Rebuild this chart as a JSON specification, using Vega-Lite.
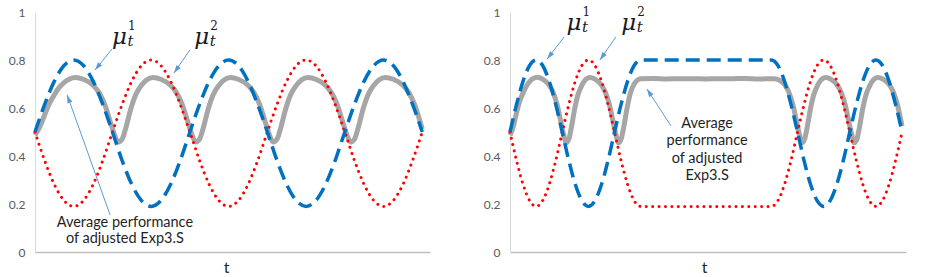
{
  "$schema": "https://vega.github.io/schema/vega-lite/v6.json",
  "background": "white",
  "padding": {"left": 8, "top": 5, "right": 0, "bottom": 0},
  "spacing": 50,
  "config": {
    "view": {"stroke": null},
    "axis": {"grid": false, "ticks": false, "labelFont": "Lato", "titleFont": "Lato", "labelColor": "#595959", "titleColor": "#262626"}
  },
  "datasets": {
    "Lmu": [
      {"t": 0, "mu1": 0.5, "mu2": 0.5}, {"t": 25, "mu1": 0.615, "mu2": 0.381}, {"t": 50, "mu1": 0.712, "mu2": 0.281}, {"t": 75, "mu1": 0.777, "mu2": 0.214},
      {"t": 100, "mu1": 0.8, "mu2": 0.19}, {"t": 125, "mu1": 0.777, "mu2": 0.214}, {"t": 150, "mu1": 0.712, "mu2": 0.281}, {"t": 175, "mu1": 0.615, "mu2": 0.381},
      {"t": 200, "mu1": 0.5, "mu2": 0.5}, {"t": 225, "mu1": 0.381, "mu2": 0.615}, {"t": 250, "mu1": 0.281, "mu2": 0.712}, {"t": 275, "mu1": 0.214, "mu2": 0.777},
      {"t": 300, "mu1": 0.19, "mu2": 0.8}, {"t": 325, "mu1": 0.214, "mu2": 0.777}, {"t": 350, "mu1": 0.281, "mu2": 0.712}, {"t": 375, "mu1": 0.381, "mu2": 0.615},
      {"t": 400, "mu1": 0.5, "mu2": 0.5}, {"t": 425, "mu1": 0.615, "mu2": 0.381}, {"t": 450, "mu1": 0.712, "mu2": 0.281}, {"t": 475, "mu1": 0.777, "mu2": 0.214},
      {"t": 500, "mu1": 0.8, "mu2": 0.19}, {"t": 525, "mu1": 0.777, "mu2": 0.214}, {"t": 550, "mu1": 0.712, "mu2": 0.281}, {"t": 575, "mu1": 0.615, "mu2": 0.381},
      {"t": 600, "mu1": 0.5, "mu2": 0.5}, {"t": 625, "mu1": 0.381, "mu2": 0.615}, {"t": 650, "mu1": 0.281, "mu2": 0.712}, {"t": 675, "mu1": 0.214, "mu2": 0.777},
      {"t": 700, "mu1": 0.19, "mu2": 0.8}, {"t": 725, "mu1": 0.214, "mu2": 0.777}, {"t": 750, "mu1": 0.281, "mu2": 0.712}, {"t": 775, "mu1": 0.381, "mu2": 0.615},
      {"t": 800, "mu1": 0.5, "mu2": 0.5}, {"t": 825, "mu1": 0.615, "mu2": 0.381}, {"t": 850, "mu1": 0.712, "mu2": 0.281}, {"t": 875, "mu1": 0.777, "mu2": 0.214},
      {"t": 900, "mu1": 0.8, "mu2": 0.19}, {"t": 925, "mu1": 0.777, "mu2": 0.214}, {"t": 950, "mu1": 0.712, "mu2": 0.281}, {"t": 975, "mu1": 0.615, "mu2": 0.381},
      {"t": 1000, "mu1": 0.5, "mu2": 0.5}
    ],
    "Lavg": [
      {"t": 0, "v": 0.487}, {"t": 12, "v": 0.52}, {"t": 25, "v": 0.572}, {"t": 37, "v": 0.618}, {"t": 50, "v": 0.655}, {"t": 62, "v": 0.685}, {"t": 75, "v": 0.706}, {"t": 88, "v": 0.72}, {"t": 105, "v": 0.727},
      {"t": 125, "v": 0.72}, {"t": 150, "v": 0.695}, {"t": 165, "v": 0.665}, {"t": 180, "v": 0.615}, {"t": 195, "v": 0.54}, {"t": 205, "v": 0.49}, {"t": 215, "v": 0.458}, {"t": 225, "v": 0.47}, {"t": 235, "v": 0.52}, {"t": 248, "v": 0.6}, {"t": 260, "v": 0.655}, {"t": 275, "v": 0.695}, {"t": 288, "v": 0.717}, {"t": 305, "v": 0.727},
      {"t": 325, "v": 0.72}, {"t": 350, "v": 0.695}, {"t": 365, "v": 0.665}, {"t": 380, "v": 0.615}, {"t": 395, "v": 0.54}, {"t": 405, "v": 0.49}, {"t": 415, "v": 0.458}, {"t": 425, "v": 0.47}, {"t": 435, "v": 0.52}, {"t": 448, "v": 0.6}, {"t": 460, "v": 0.655}, {"t": 475, "v": 0.695}, {"t": 488, "v": 0.717}, {"t": 505, "v": 0.727},
      {"t": 525, "v": 0.72}, {"t": 550, "v": 0.695}, {"t": 565, "v": 0.665}, {"t": 580, "v": 0.615}, {"t": 595, "v": 0.54}, {"t": 605, "v": 0.49}, {"t": 615, "v": 0.458}, {"t": 625, "v": 0.47}, {"t": 635, "v": 0.52}, {"t": 648, "v": 0.6}, {"t": 660, "v": 0.655}, {"t": 675, "v": 0.695}, {"t": 688, "v": 0.717}, {"t": 705, "v": 0.727},
      {"t": 725, "v": 0.72}, {"t": 750, "v": 0.695}, {"t": 765, "v": 0.665}, {"t": 780, "v": 0.615}, {"t": 795, "v": 0.54}, {"t": 805, "v": 0.49}, {"t": 815, "v": 0.458}, {"t": 825, "v": 0.47}, {"t": 835, "v": 0.52}, {"t": 848, "v": 0.6}, {"t": 860, "v": 0.655}, {"t": 875, "v": 0.695}, {"t": 888, "v": 0.717}, {"t": 905, "v": 0.727},
      {"t": 925, "v": 0.72}, {"t": 950, "v": 0.695}, {"t": 965, "v": 0.665}, {"t": 980, "v": 0.615}, {"t": 995, "v": 0.54}, {"t": 1000, "v": 0.512}
    ],
    "Rmu": [
      {"t": 0, "mu1": 0.5, "mu2": 0.5}, {"t": 25, "mu1": 0.615, "mu2": 0.381}, {"t": 50, "mu1": 0.712, "mu2": 0.281}, {"t": 75, "mu1": 0.777, "mu2": 0.214},
      {"t": 100, "mu1": 0.8, "mu2": 0.19}, {"t": 125, "mu1": 0.777, "mu2": 0.214}, {"t": 150, "mu1": 0.712, "mu2": 0.281}, {"t": 175, "mu1": 0.615, "mu2": 0.381},
      {"t": 200, "mu1": 0.5, "mu2": 0.5}, {"t": 225, "mu1": 0.381, "mu2": 0.615}, {"t": 250, "mu1": 0.281, "mu2": 0.712}, {"t": 275, "mu1": 0.214, "mu2": 0.777},
      {"t": 300, "mu1": 0.19, "mu2": 0.8}, {"t": 325, "mu1": 0.214, "mu2": 0.777}, {"t": 350, "mu1": 0.281, "mu2": 0.712}, {"t": 375, "mu1": 0.381, "mu2": 0.615},
      {"t": 400, "mu1": 0.5, "mu2": 0.5}, {"t": 425, "mu1": 0.615, "mu2": 0.381}, {"t": 450, "mu1": 0.712, "mu2": 0.281}, {"t": 475, "mu1": 0.777, "mu2": 0.214},
      {"t": 500, "mu1": 0.8, "mu2": 0.19}, {"t": 750, "mu1": 0.8, "mu2": 0.19}, {"t": 1000, "mu1": 0.8, "mu2": 0.19},
      {"t": 1025, "mu1": 0.777, "mu2": 0.214}, {"t": 1050, "mu1": 0.712, "mu2": 0.281}, {"t": 1075, "mu1": 0.615, "mu2": 0.381},
      {"t": 1100, "mu1": 0.5, "mu2": 0.5}, {"t": 1125, "mu1": 0.381, "mu2": 0.615}, {"t": 1150, "mu1": 0.281, "mu2": 0.712}, {"t": 1175, "mu1": 0.214, "mu2": 0.777},
      {"t": 1200, "mu1": 0.19, "mu2": 0.8}, {"t": 1225, "mu1": 0.214, "mu2": 0.777}, {"t": 1250, "mu1": 0.281, "mu2": 0.712}, {"t": 1275, "mu1": 0.381, "mu2": 0.615},
      {"t": 1300, "mu1": 0.5, "mu2": 0.5}, {"t": 1325, "mu1": 0.615, "mu2": 0.381}, {"t": 1350, "mu1": 0.712, "mu2": 0.281}, {"t": 1375, "mu1": 0.777, "mu2": 0.214},
      {"t": 1400, "mu1": 0.8, "mu2": 0.19}, {"t": 1425, "mu1": 0.777, "mu2": 0.214}, {"t": 1450, "mu1": 0.712, "mu2": 0.281}, {"t": 1475, "mu1": 0.615, "mu2": 0.381},
      {"t": 1500, "mu1": 0.5, "mu2": 0.5}
    ],
    "Ravg": [
      {"t": 0, "v": 0.487}, {"t": 12, "v": 0.52}, {"t": 25, "v": 0.58}, {"t": 37, "v": 0.628}, {"t": 50, "v": 0.663}, {"t": 62, "v": 0.69}, {"t": 75, "v": 0.71}, {"t": 88, "v": 0.722}, {"t": 105, "v": 0.728},
      {"t": 125, "v": 0.72}, {"t": 150, "v": 0.695}, {"t": 165, "v": 0.665}, {"t": 180, "v": 0.615}, {"t": 195, "v": 0.54}, {"t": 205, "v": 0.49}, {"t": 215, "v": 0.455}, {"t": 225, "v": 0.47}, {"t": 235, "v": 0.52}, {"t": 248, "v": 0.6}, {"t": 260, "v": 0.655}, {"t": 275, "v": 0.695}, {"t": 288, "v": 0.717}, {"t": 305, "v": 0.727},
      {"t": 325, "v": 0.72}, {"t": 350, "v": 0.695}, {"t": 365, "v": 0.665}, {"t": 380, "v": 0.615}, {"t": 395, "v": 0.54}, {"t": 405, "v": 0.49}, {"t": 415, "v": 0.455}, {"t": 425, "v": 0.47}, {"t": 435, "v": 0.52}, {"t": 448, "v": 0.6}, {"t": 460, "v": 0.66}, {"t": 475, "v": 0.7}, {"t": 500, "v": 0.722},
      {"t": 550, "v": 0.723}, {"t": 600, "v": 0.721}, {"t": 650, "v": 0.722}, {"t": 700, "v": 0.722}, {"t": 750, "v": 0.721}, {"t": 800, "v": 0.722}, {"t": 850, "v": 0.722}, {"t": 900, "v": 0.723}, {"t": 950, "v": 0.721}, {"t": 1010, "v": 0.722},
      {"t": 1030, "v": 0.716}, {"t": 1052, "v": 0.695}, {"t": 1067, "v": 0.665}, {"t": 1082, "v": 0.615}, {"t": 1097, "v": 0.54}, {"t": 1107, "v": 0.49}, {"t": 1117, "v": 0.455}, {"t": 1127, "v": 0.47}, {"t": 1137, "v": 0.52}, {"t": 1150, "v": 0.6}, {"t": 1162, "v": 0.655}, {"t": 1177, "v": 0.695}, {"t": 1190, "v": 0.717}, {"t": 1207, "v": 0.727},
      {"t": 1227, "v": 0.72}, {"t": 1252, "v": 0.695}, {"t": 1267, "v": 0.665}, {"t": 1282, "v": 0.615}, {"t": 1297, "v": 0.54}, {"t": 1307, "v": 0.49}, {"t": 1317, "v": 0.455}, {"t": 1327, "v": 0.47}, {"t": 1337, "v": 0.52}, {"t": 1350, "v": 0.6}, {"t": 1362, "v": 0.655}, {"t": 1377, "v": 0.695}, {"t": 1390, "v": 0.717}, {"t": 1407, "v": 0.727},
      {"t": 1427, "v": 0.72}, {"t": 1452, "v": 0.695}, {"t": 1467, "v": 0.665}, {"t": 1482, "v": 0.615}, {"t": 1497, "v": 0.54}, {"t": 1500, "v": 0.525}
    ],
    "Llab": [{"t": 199, "v": 0.867, "sup": "1"}, {"t": 411, "v": 0.867, "sup": "2"}],
    "Rlab": [{"t": 216, "v": 0.925, "sup": "1"}, {"t": 426, "v": 0.925, "sup": "2"}],
    "Larr": [
      {"id": "a1", "t": 155, "v": 0.758, "t2": 199, "v2": 0.846},
      {"id": "a2", "t": 359, "v": 0.746, "t2": 400, "v2": 0.842},
      {"id": "a3", "t": 83, "v": 0.654, "t2": 194, "v2": 0.154}
    ],
    "Rarr": [
      {"id": "b1", "t": 142, "v": 0.804, "t2": 207, "v2": 0.896},
      {"id": "b2", "t": 344, "v": 0.8, "t2": 405, "v2": 0.896},
      {"id": "b3", "t": 524, "v": 0.679, "t2": 616, "v2": 0.525}
    ],
    "Ltxt": [{"t": 232, "v": 0.104, "label": "Average performance\nof adjusted Exp3.S"}],
    "Rtxt": [{"t": 754, "v": 0.517, "label": "Average\nperformance\nof adjusted\nExp3.S"}]
  },
  "hconcat": [
    {
      "width": 395,
      "height": 240,
      "encoding": {
        "x": {"field": "t", "type": "quantitative", "scale": {"domain": [0, 1020], "nice": false, "zero": false},
              "axis": {"labels": false, "domainColor": "#bfbfbf", "domainWidth": 1.5, "title": "t", "titleFontSize": 16, "titleFontWeight": "normal", "titlePadding": 7, "titleX": 191}},
        "y": {"field": "v", "type": "quantitative", "scale": {"domain": [0, 1], "nice": false},
              "axis": {"values": [0, 0.2, 0.4, 0.6, 0.8, 1], "format": ".1~f", "domainColor": "#d9d9d9", "labelFontSize": 12, "labelPadding": 10, "title": null}}
      },
      "layer": [
        {"data": {"name": "Lavg"}, "mark": {"type": "line", "color": "#a6a6a6", "strokeWidth": 5, "interpolate": "monotone"}},
        {"data": {"name": "Lmu"}, "transform": [{"fold": ["mu2"], "as": ["s", "v"]}], "mark": {"type": "line", "color": "#ff0000", "strokeWidth": 3, "strokeDash": [0.01, 6.4], "strokeCap": "round", "interpolate": "monotone"}},
        {"data": {"name": "Lmu"}, "transform": [{"fold": ["mu1"], "as": ["s", "v"]}], "mark": {"type": "line", "color": "#0070c0", "strokeWidth": 3.5, "strokeDash": [14, 7], "interpolate": "monotone"}},
        {"data": {"name": "Llab"}, "mark": {"type": "text", "text": "μ", "font": "DejaVu Serif", "fontStyle": "italic", "fontSize": 23, "align": "left", "baseline": "alphabetic", "color": "#1a1a1a"}},
        {"data": {"name": "Llab"}, "mark": {"type": "text", "text": "t", "font": "DejaVu Serif", "fontStyle": "italic", "fontSize": 15, "align": "left", "baseline": "alphabetic", "dx": 15.5, "dy": 2, "color": "#1a1a1a"}},
        {"data": {"name": "Llab"}, "mark": {"type": "text", "font": "DejaVu Serif", "fontSize": 12, "align": "left", "baseline": "alphabetic", "dx": 16, "dy": -14, "color": "#1a1a1a"}, "encoding": {"text": {"field": "sup"}}},
        {"data": {"name": "Larr"}, "mark": {"type": "rule", "color": "#5b9bd5", "strokeWidth": 1}, "encoding": {"x2": {"field": "t2"}, "y2": {"field": "v2"}}},
        {"data": {"name": "Larr"}, "transform": [{"filter": "datum.id === 'a1'"}], "mark": {"type": "point", "shape": "M0,0L0.65,2L-0.65,2Z", "size": 64, "filled": true, "opacity": 1, "color": "#5b9bd5", "angle": 219}},
        {"data": {"name": "Larr"}, "transform": [{"filter": "datum.id === 'a2'"}], "mark": {"type": "point", "shape": "M0,0L0.65,2L-0.65,2Z", "size": 64, "filled": true, "opacity": 1, "color": "#5b9bd5", "angle": 215}},
        {"data": {"name": "Larr"}, "transform": [{"filter": "datum.id === 'a3'"}], "mark": {"type": "point", "shape": "M0,0L0.65,2L-0.65,2Z", "size": 64, "filled": true, "opacity": 1, "color": "#5b9bd5", "angle": 340}},
        {"data": {"name": "Ltxt"}, "mark": {"type": "text", "font": "Lato", "fontSize": 14.5, "lineBreak": "\n", "lineHeight": 16, "align": "center", "baseline": "alphabetic", "color": "#1f1f1f"}, "encoding": {"text": {"field": "label"}}}
      ]
    },
    {
      "width": 396,
      "height": 240,
      "encoding": {
        "x": {"field": "t", "type": "quantitative", "scale": {"domain": [0, 1515], "nice": false, "zero": false},
              "axis": {"labels": false, "domainColor": "#bfbfbf", "domainWidth": 1.5, "title": "t", "titleFontSize": 16, "titleFontWeight": "normal", "titlePadding": 7, "titleX": 194}},
        "y": {"field": "v", "type": "quantitative", "scale": {"domain": [0, 1], "nice": false},
              "axis": {"values": [0, 0.2, 0.4, 0.6, 0.8, 1], "format": ".1~f", "domainColor": "#d9d9d9", "labelFontSize": 12, "labelPadding": 10, "title": null}}
      },
      "layer": [
        {"data": {"name": "Ravg"}, "mark": {"type": "line", "color": "#a6a6a6", "strokeWidth": 5, "interpolate": "monotone"}},
        {"data": {"name": "Rmu"}, "transform": [{"fold": ["mu2"], "as": ["s", "v"]}], "mark": {"type": "line", "color": "#ff0000", "strokeWidth": 3, "strokeDash": [0.01, 6.4], "strokeCap": "round", "interpolate": "monotone"}},
        {"data": {"name": "Rmu"}, "transform": [{"fold": ["mu1"], "as": ["s", "v"]}], "mark": {"type": "line", "color": "#0070c0", "strokeWidth": 3.5, "strokeDash": [14, 7], "interpolate": "monotone"}},
        {"data": {"name": "Rlab"}, "mark": {"type": "text", "text": "μ", "font": "DejaVu Serif", "fontStyle": "italic", "fontSize": 23, "align": "left", "baseline": "alphabetic", "color": "#1a1a1a"}},
        {"data": {"name": "Rlab"}, "mark": {"type": "text", "text": "t", "font": "DejaVu Serif", "fontStyle": "italic", "fontSize": 15, "align": "left", "baseline": "alphabetic", "dx": 15.5, "dy": 2, "color": "#1a1a1a"}},
        {"data": {"name": "Rlab"}, "mark": {"type": "text", "font": "DejaVu Serif", "fontSize": 12, "align": "left", "baseline": "alphabetic", "dx": 16, "dy": -14, "color": "#1a1a1a"}, "encoding": {"text": {"field": "sup"}}},
        {"data": {"name": "Rarr"}, "mark": {"type": "rule", "color": "#5b9bd5", "strokeWidth": 1}, "encoding": {"x2": {"field": "t2"}, "y2": {"field": "v2"}}},
        {"data": {"name": "Rarr"}, "transform": [{"filter": "datum.id === 'b1'"}], "mark": {"type": "point", "shape": "M0,0L0.65,2L-0.65,2Z", "size": 64, "filled": true, "opacity": 1, "color": "#5b9bd5", "angle": 218}},
        {"data": {"name": "Rarr"}, "transform": [{"filter": "datum.id === 'b2'"}], "mark": {"type": "point", "shape": "M0,0L0.65,2L-0.65,2Z", "size": 64, "filled": true, "opacity": 1, "color": "#5b9bd5", "angle": 215}},
        {"data": {"name": "Rarr"}, "transform": [{"filter": "datum.id === 'b3'"}], "mark": {"type": "point", "shape": "M0,0L0.65,2L-0.65,2Z", "size": 64, "filled": true, "opacity": 1, "color": "#5b9bd5", "angle": 327}},
        {"data": {"name": "Rtxt"}, "mark": {"type": "text", "font": "Lato", "fontSize": 14.5, "lineBreak": "\n", "lineHeight": 17.5, "align": "center", "baseline": "alphabetic", "color": "#1f1f1f"}, "encoding": {"text": {"field": "label"}}}
      ]
    }
  ]
}
